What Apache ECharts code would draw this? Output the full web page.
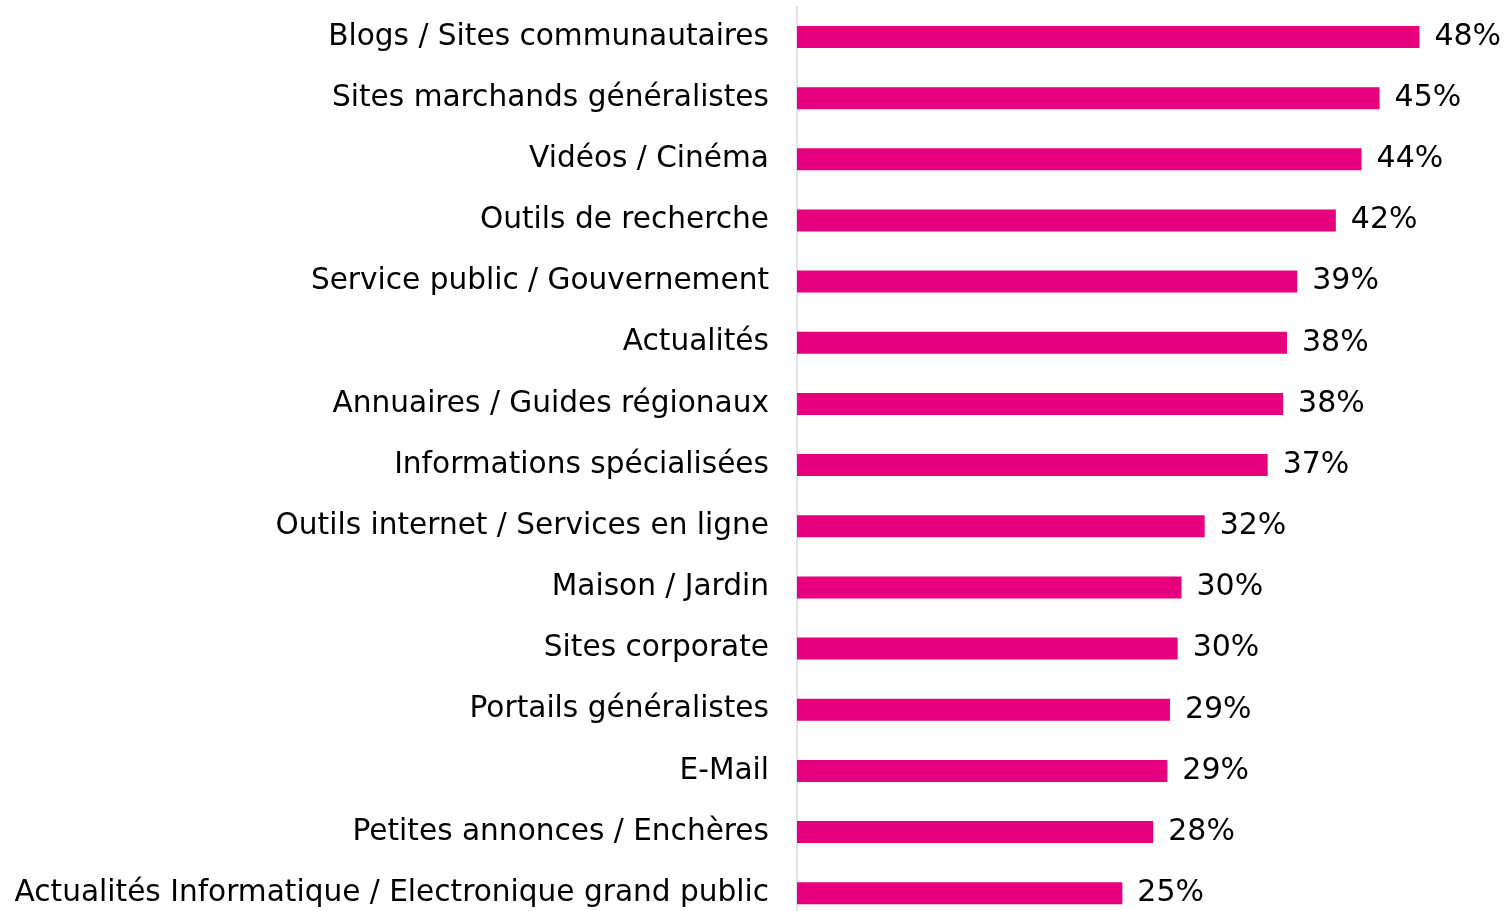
<!DOCTYPE html>
<html>
<head>
    <meta charset="UTF-8" />
    <title>Chart</title>
    <script src="https://cdn.jsdelivr.net/npm/echarts@6/dist/echarts.min.js"></script>
    <style>
        html, body { margin: 0; padding: 0; background: #fff; overflow: hidden; }
        /* taller than the window: the last row is cut off at the bottom edge, as in the original */
        #main { width: 1509px; height: 930px; }
    </style>
</head>
<body>
<div id="main"></div>
<script type="text/javascript">
    // categories, top to bottom
    var categories = [
        'Blogs / Sites communautaires',
        'Sites marchands généralistes',
        'Vidéos / Cinéma',
        'Outils de recherche',
        'Service public / Gouvernement',
        'Actualités',
        'Annuaires / Guides régionaux',
        'Informations spécialisées',
        'Outils internet / Services en ligne',
        'Maison / Jardin',
        'Sites corporate',
        'Portails généralistes',
        'E-Mail',
        'Petites annonces / Enchères',
        'Actualités Informatique / Electronique grand public'
    ];
    // share in %
    var values = [48.4, 45.3, 43.9, 41.9, 38.9, 38.1, 37.8, 36.6, 31.7, 29.9, 29.6, 29.0, 28.8, 27.7, 25.3];

    var myChart = echarts.init(document.getElementById('main'));

    var option = {
        animation: false,
        textStyle: { fontFamily: 'DejaVu Sans' },
        grid: {
            left: 797,
            top: 6.4,
            width: 643,
            height: 917.4,
            containLabel: false
        },
        xAxis: {
            type: 'value',
            min: 0,
            max: 50,
            show: false
        },
        yAxis: {
            type: 'category',
            inverse: true,
            data: categories,
            axisLine: { show: true, lineStyle: { color: '#d9d9d9', width: 1.5 } },
            axisTick: { show: false },
            axisLabel: {
                margin: 28,
                color: '#000',
                fontSize: 29.6,
                fontFamily: 'DejaVu Sans',
                padding: [5, 0, 0, 0]
            }
        },
        series: [{
            type: 'bar',
            data: values,
            barWidth: 22,
            itemStyle: { color: '#E6007E' },
            label: {
                show: true,
                position: 'right',
                distance: 15,
                color: '#000',
                fontSize: 30,
                fontFamily: 'DejaVu Sans',
                padding: [6, 0, 0, 0],
                formatter: function (p) { return Math.round(p.value) + '%'; }
            }
        }]
    };

    myChart.setOption(option);
</script>
</body>
</html>
